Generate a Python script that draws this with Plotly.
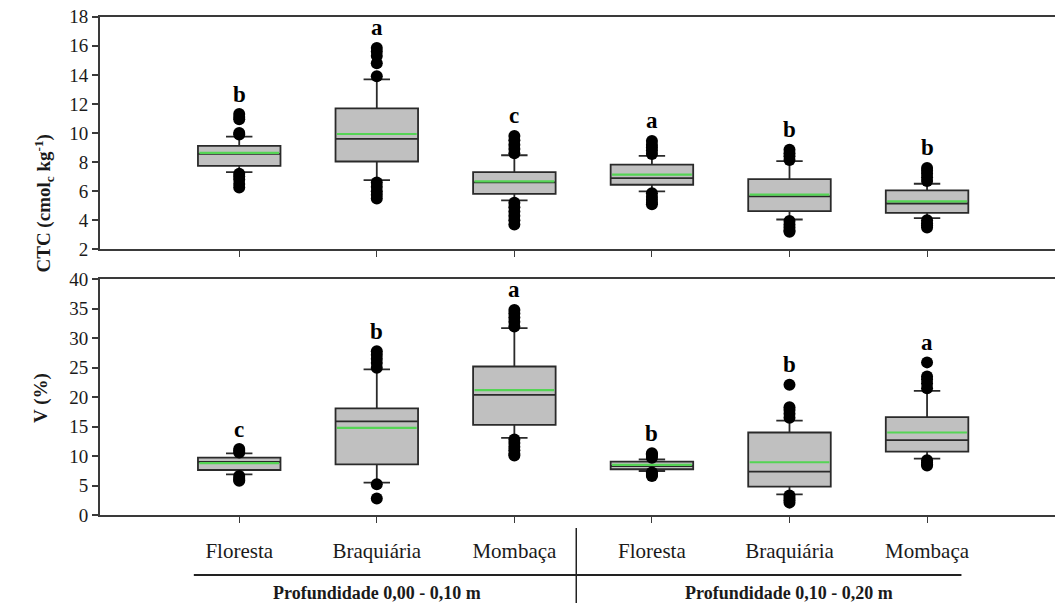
import plotly.graph_objects as go

# ---------------- data ----------------
categories = ["Floresta", "Braquiária", "Mombaça", "Floresta", "Braquiária", "Mombaça"]
groups = ["Profundidade 0,00 - 0,10 m", "Profundidade 0,10 - 0,20 m"]
positions = [1, 2, 3, 4, 5, 6]

ctc_q1 = [7.74, 8.04, 5.81, 6.44, 4.62, 4.51]
ctc_median = [8.56, 9.59, 6.60, 6.90, 5.64, 5.15]
ctc_q3 = [9.11, 11.69, 7.31, 7.83, 6.83, 6.06]
ctc_lower = [7.31, 6.76, 5.37, 5.99, 4.05, 4.14]
ctc_upper = [9.75, 13.69, 8.47, 8.43, 8.06, 6.51]
ctc_mean = [8.63, 9.93, 6.67, 7.13, 5.76, 5.30]
ctc_outliers = [
    [9.9, 10.0, 10.95, 11.1, 11.3, 7.2, 7.0, 6.8, 6.5, 6.25],
    [13.9, 14.8, 15.3, 15.6, 15.85, 6.6, 6.3, 6.0, 5.75, 5.5],
    [8.6, 8.9, 9.2, 9.5, 9.8, 5.2, 4.9, 4.6, 4.3, 4.0, 3.7],
    [8.55, 8.8, 9.0, 9.2, 9.45, 5.85, 5.6, 5.4, 5.2, 5.1],
    [8.15, 8.4, 8.6, 8.85, 3.95, 3.7, 3.5, 3.3, 3.2],
    [6.7, 6.95, 7.2, 7.4, 7.6, 4.0, 3.8, 3.65, 3.5],
]
ctc_letters = ["b", "a", "c", "a", "b", "b"]

v_q1 = [7.64, 8.6, 15.3, 7.76, 4.8, 10.75]
v_median = [9.0, 15.9, 20.4, 8.3, 7.35, 12.7]
v_q3 = [9.73, 18.1, 25.2, 9.05, 14.0, 16.6]
v_lower = [6.91, 5.5, 13.1, 7.47, 3.5, 9.56]
v_upper = [10.47, 24.7, 31.7, 9.45, 16.0, 21.05]
v_mean = [8.8, 14.8, 21.2, 8.5, 8.95, 14.0]
v_outliers = [
    [10.6, 10.9, 11.2, 6.6, 6.3, 6.0, 5.8],
    [25.0, 25.8, 26.5, 27.2, 27.8, 5.2, 2.8],
    [32.0, 32.8, 33.5, 34.2, 34.8, 12.8, 12.2, 11.6, 11.0, 10.4, 10.1],
    [9.7, 10.0, 10.3, 10.5, 7.2, 7.0, 6.8, 6.6],
    [16.5, 17.2, 17.8, 18.3, 22.1, 3.3, 2.9, 2.5, 2.1],
    [21.5, 22.3, 23.0, 23.5, 25.9, 9.3, 8.9, 8.6, 8.4],
]
v_letters = ["c", "b", "a", "b", "b", "a"]

# ---------------- style ----------------
FONT = "Liberation Serif, Times New Roman, serif"
BOX_W = 0.6
AX_COL = "#3a3a3a"
W, H = 1055, 605

fig = go.Figure()


def add_panel(xa, ya, q1, med, q3, lo, up, mean, outl, letters):
    fig.add_trace(go.Box(
        x=positions, q1=q1, median=med, q3=q3, lowerfence=lo, upperfence=up,
        width=BOX_W, whiskerwidth=0.32, boxpoints=False,
        fillcolor="#c0c0c0", line=dict(color="#2a2a2a", width=1.8),
        xaxis=xa, yaxis=ya, showlegend=False, hoverinfo="skip",
    ))
    mx, my = [], []
    for p, m in zip(positions, mean):
        mx += [p - BOX_W / 2 + 0.01, p + BOX_W / 2 - 0.01, None]
        my += [m, m, None]
    fig.add_trace(go.Scatter(x=mx, y=my, mode="lines",
                             line=dict(color="#55d455", width=2.2),
                             xaxis=xa, yaxis=ya, showlegend=False, hoverinfo="skip"))
    ox, oy = [], []
    for p, vals in zip(positions, outl):
        ox += [p] * len(vals)
        oy += vals
    fig.add_trace(go.Scatter(x=ox, y=oy, mode="markers",
                             marker=dict(color="black", size=12),
                             xaxis=xa, yaxis=ya, showlegend=False, hoverinfo="skip"))
    for p, vals, lt in zip(positions, outl, letters):
        fig.add_annotation(x=p, y=max(vals), xref=xa, yref=ya, text="<b>%s</b>" % lt,
                           showarrow=False, yshift=20, yanchor="middle",
                           font=dict(family=FONT, size=23, color="black"))


add_panel("x", "y", ctc_q1, ctc_median, ctc_q3, ctc_lower, ctc_upper, ctc_mean,
          ctc_outliers, ctc_letters)
add_panel("x2", "y2", v_q1, v_median, v_q3, v_lower, v_upper, v_mean,
          v_outliers, v_letters)

xdom = [100 / W, 1.0]
xrange = [-0.012, 6.93]
common_x = dict(range=xrange, domain=xdom, showline=True, linecolor=AX_COL, linewidth=2,
                mirror=True, ticks="outside", ticklen=6, tickwidth=1, tickcolor=AX_COL,
                tickvals=positions, showgrid=False, zeroline=False, fixedrange=True,
                automargin=False)
common_y = dict(showline=True, linecolor=AX_COL, linewidth=2, ticks="outside",
                ticklen=6, tickwidth=1.5, tickcolor=AX_COL, showgrid=False,
                zeroline=False, tickfont=dict(family=FONT, size=19, color="#1a1a1a"),
                fixedrange=True, automargin=False)

fig.update_layout(
    width=W, height=H,
    margin=dict(l=0, r=0, t=0, b=0, pad=0, autoexpand=False),
    paper_bgcolor="white", plot_bgcolor="white",
    xaxis=dict(common_x, anchor="y", showticklabels=False),
    yaxis=dict(common_y, anchor="x", range=[2, 18], tickvals=list(range(2, 19, 2)),
               domain=[1 - 249.3 / H, 1 - 16.7 / H]),
    xaxis2=dict(common_x, anchor="y2", ticktext=categories, ticklabelstandoff=10,
                tickfont=dict(family=FONT, size=21, color="#1a1a1a")),
    yaxis2=dict(common_y, anchor="x2", range=[0, 40], tickvals=list(range(0, 41, 5)),
                domain=[1 - 515 / H, 1 - 279.3 / H]),
)

# axis titles
fig.add_annotation(x=28 / W, y=1 - 133 / H, xref="paper", yref="paper",
                   text="<b>CTC (cmol<sub>c</sub> kg<sup>-1</sup>)</b>", textangle=-90,
                   showarrow=False, font=dict(family=FONT, size=19, color="#1a1a1a"))
fig.add_annotation(x=28 / W, y=1 - 398 / H, xref="paper", yref="paper",
                   text="<b>V (%)</b>", textangle=-90,
                   showarrow=False, font=dict(family=FONT, size=19, color="#1a1a1a"))

# group separators and labels
fig.add_shape(type="line", xref="x2", yref="paper", x0=0.67, x1=6.25,
              y0=1 - 575 / H, y1=1 - 575 / H, line=dict(color="#222", width=2))
fig.add_shape(type="line", xref="x2", yref="paper", x0=3.45, x1=3.45,
              y0=1 - 528 / H, y1=1 - 603 / H, line=dict(color="#222", width=1.5))
for gx, g in zip([2, 5], groups):
    fig.add_annotation(x=gx, y=1 - 593 / H, xref="x2", yref="paper", text="<b>%s</b>" % g,
                       showarrow=False, yanchor="middle",
                       font=dict(family=FONT, size=18, color="#1a1a1a"))

fig.write_html("out.html")
